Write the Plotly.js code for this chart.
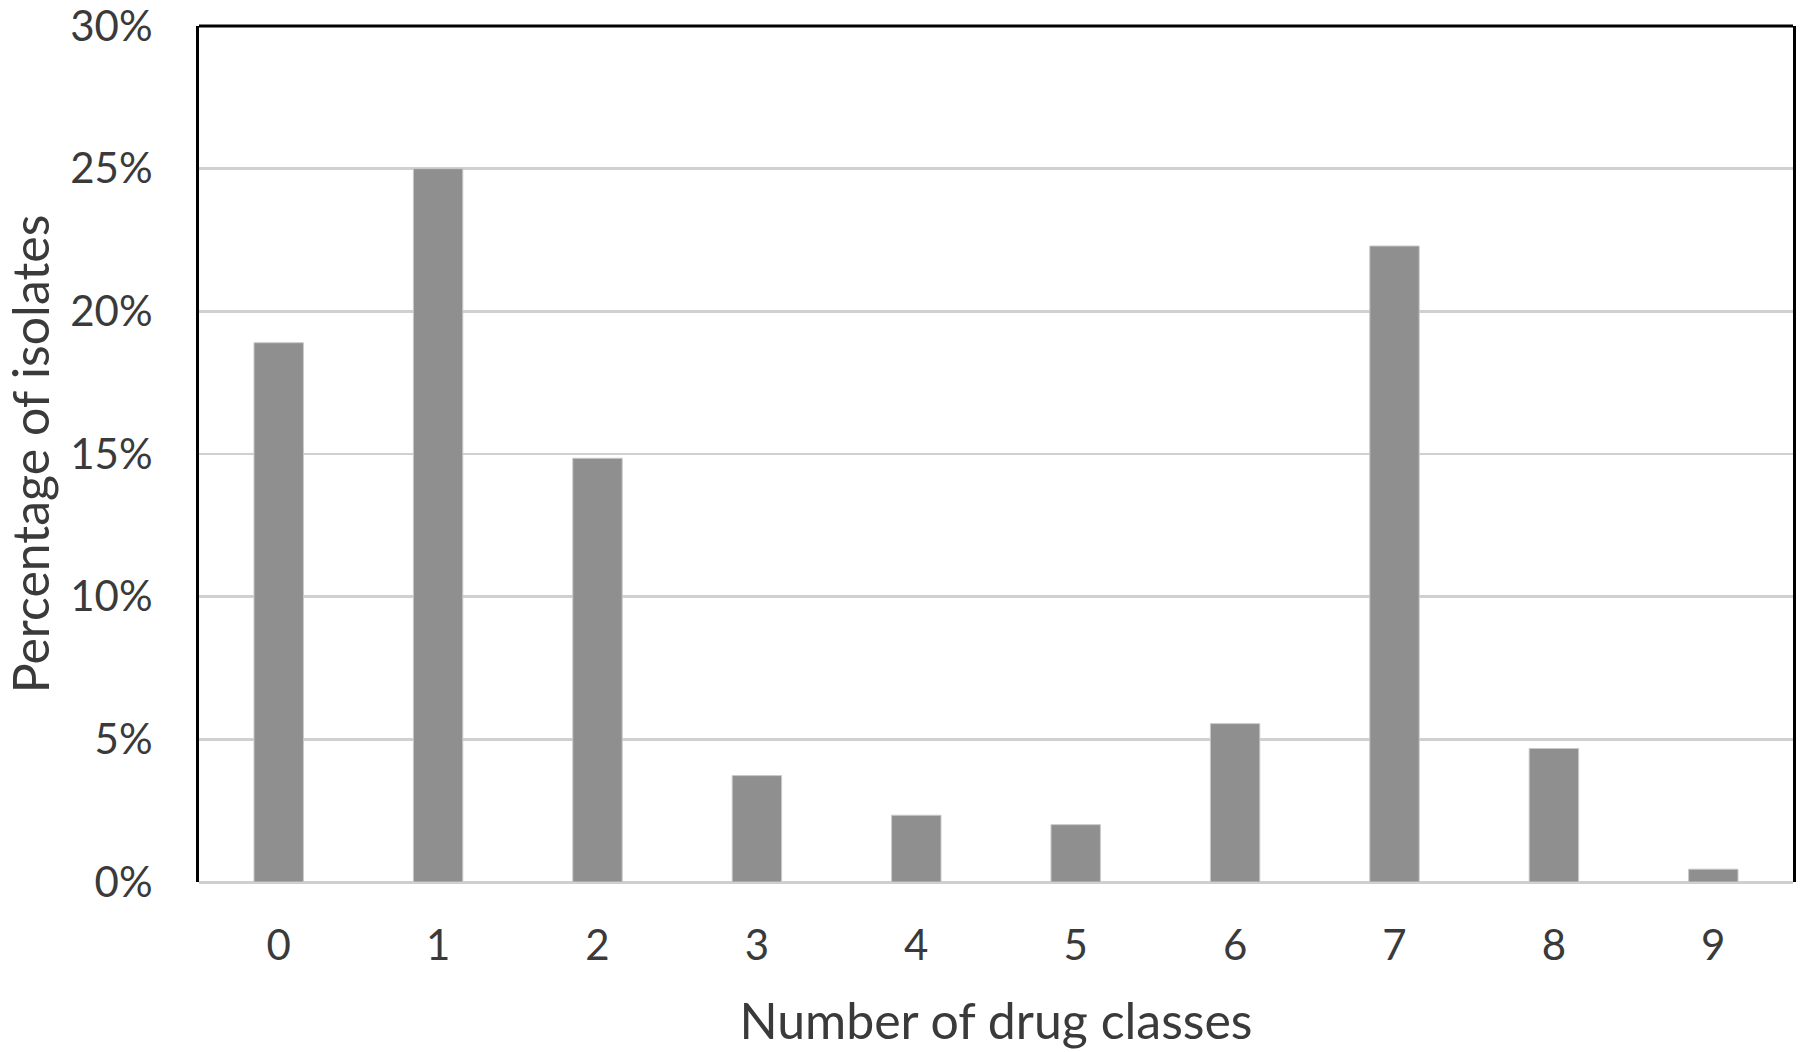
<!DOCTYPE html>
<html>
<head>
<meta charset="utf-8">
<script src="https://cdn.plot.ly/plotly-3.0.1.min.js"></script>
<style>html,body{margin:0;padding:0;background:#fff;}#chart{width:1800px;height:1052px;}</style>
</head>
<body>
<div id="chart"></div>
<script>
const categories = ["0", "1", "2", "3", "4", "5", "6", "7", "8", "9"];
const percentIsolates = [18.9, 25.0, 14.85, 3.73, 2.34, 2.01, 5.55, 22.29, 4.68, 0.45];
const yTickValues = [0, 5, 10, 15, 20, 25, 30];
const yTickLabels = ["0%", "5%", "10%", "15%", "20%", "25%", "30%"];
const xTitle = "Number of drug classes";
const yTitle = "Percentage of isolates";

const FONT = "Lato, 'Open Sans', sans-serif";
const TXT = "#3a3a3a";

const trace = {
  type: "bar",
  x: categories,
  y: percentIsolates,
  marker: { color: "#8f8f8f", line: { color: "#c9c9c9", width: 1 } },
  hoverinfo: "x+y"
};

const layout = {
  width: 1800,
  height: 1052,
  margin: { l: 199, r: 7, t: 26, b: 170 },
  paper_bgcolor: "#ffffff",
  plot_bgcolor: "#ffffff",
  showlegend: false,
  bargap: 0.69,
  font: { family: FONT, color: TXT, size: 42 },
  xaxis: {
    type: "category",
    tickfont: { family: FONT, size: 42, color: TXT },
    ticks: "",
    ticklabelstandoff: 35,
    showgrid: false,
    showline: false,
    zeroline: false,
    automargin: false,
    title: { text: xTitle, font: { family: FONT, size: 50, color: TXT }, standoff: 35 }
  },
  yaxis: {
    range: [0, 30],
    tickvals: yTickValues,
    ticktext: yTickLabels,
    tickfont: { family: FONT, size: 42, color: TXT },
    ticks: "",
    ticklabelstandoff: 35,
    ticklabeloverflow: "allow",
    showgrid: true,
    gridcolor: "#d0d0d0",
    gridwidth: 2.5,
    zeroline: true,
    zerolinecolor: "#cfcfcf",
    zerolinewidth: 3,
    showline: true,
    linecolor: "#000000",
    linewidth: 3,
    mirror: true,
    automargin: false,
    title: { text: yTitle, font: { family: FONT, size: 50, color: TXT }, standoff: 26 }
  },
  shapes: [
    { type: "line", xref: "paper", yref: "paper", x0: 0, x1: 1, y0: 1, y1: 1,
      line: { color: "#000000", width: 3 } }
  ]
};

Plotly.newPlot("chart", [trace], layout, { displayModeBar: false, staticPlot: true });
</script>
</body>
</html>
